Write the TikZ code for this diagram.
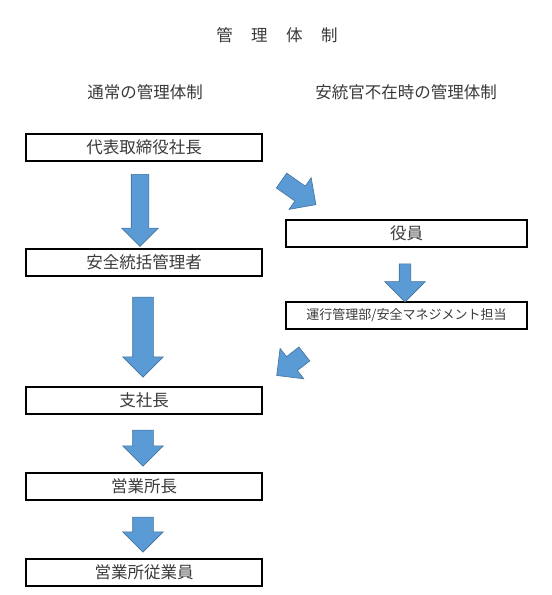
\documentclass[tikz,border=0pt]{standalone}
\usepackage{fontspec}
\setmainfont{Noto Sans CJK JP}
\usetikzlibrary{shapes.arrows}
\definecolor{arrowblue}{HTML}{5B9BD5}
\definecolor{arrowedge}{HTML}{41719C}
\definecolor{textgray}{HTML}{3A3A3A}
\begin{document}
\begin{tikzpicture}[x=1pt,y=-1pt,
	box/.style={draw,line width=2pt,minimum width=236pt,minimum height=27pt,inner sep=0pt,text=textgray,font=\fontsize{16.5}{16.5}\selectfont},
	widebox/.style={box,minimum width=241pt},
	heading/.style={text=textgray,font=\fontsize{16.5}{16.5}\selectfont},
	bigarrow/.style={single arrow,draw=arrowedge,fill=arrowblue,line width=0.6pt,inner xsep=0pt,inner ysep=10pt,single arrow head extend=10pt,minimum width=40pt}]
	\useasboundingbox (0,0) rectangle (552,595);
	\node[heading] (title) at (277,35) {管\hspace{18.5pt}理\hspace{18.5pt}体\hspace{18.5pt}制};
	\node[heading] (normal) at (145,92) {通常の管理体制};
	\node[heading] (absent) at (406,92) {安統官不在時の管理体制};
	\node[box] (ceo) at (144,147.5) {代表取締役社長};
	\node[box] (safety) at (144,262) {安全統括管理者};
	\node[box] (branch) at (144,400.5) {支社長};
	\node[box] (office) at (144,486) {営業所長};
	\node[box] (staff) at (144,572.5) {営業所従業員};
	\node[widebox] (officer) at (406.5,233.5) {役員};
	\node[widebox,font=\fontsize{13}{13}\selectfont] (opsdept) at (406.5,315) {運行管理部/安全マネジメント担当};
	\node[bigarrow,rotate=-90,minimum height=72pt,minimum width=36pt,inner ysep=8.5pt,single arrow head extend=9.5pt] (a1) at (140,206) {};
	\node[bigarrow,rotate=-90,minimum height=80pt] (a2) at (143,332) {};
	\node[bigarrow,rotate=-90,minimum height=36pt] (a3) at (143,443) {};
	\node[bigarrow,rotate=-90,minimum height=35pt] (a4) at (143,529.5) {};
	\node[bigarrow,rotate=-90,minimum height=38pt,inner ysep=5.5pt,single arrow head extend=14.5pt] (a5) at (405,280) {};
	\node[bigarrow,rotate=-35,minimum height=42pt,minimum width=38pt,inner ysep=8.75pt,single arrow head extend=10.25pt] (d1) at (295,190) {};
	\node[bigarrow,rotate=-142,minimum height=35pt,minimum width=38pt,inner ysep=8.5pt,single arrow head extend=10.5pt] (d2) at (294,362) {};
\end{tikzpicture}
\end{document}
